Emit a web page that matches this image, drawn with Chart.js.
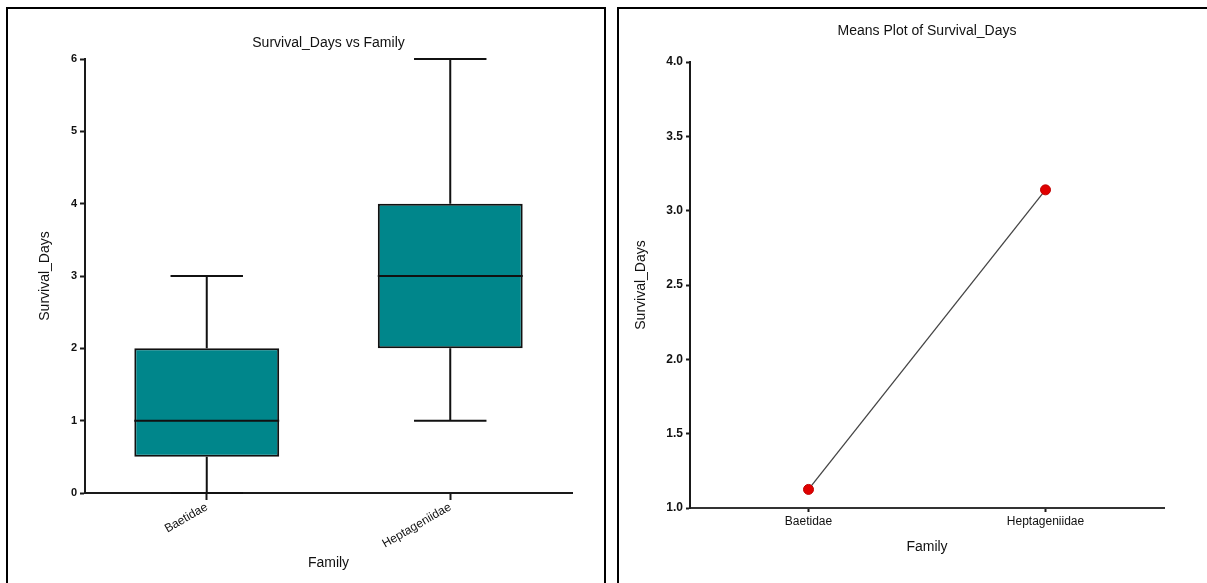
<!DOCTYPE html>
<html>
<head>
<meta charset="utf-8">
<script src="https://cdn.jsdelivr.net/npm/chart.js@4"></script>
<style>
  html, body { margin: 0; padding: 0; background: #fff; overflow: hidden; }
  body { width: 1207px; height: 583px; position: relative; }
  .panel { position: absolute; border: 2px solid #000; box-sizing: border-box; }
  #leftPanel { left: 6px; top: 7px; width: 600px; height: 600px; }
  #rightPanel { left: 617px; top: 7px; width: 620px; height: 600px; }
  canvas { position: absolute; top: 0; }
  #boxChart { left: 0; }
  #meansChart { left: 610px; }
</style>
</head>
<body>
<div class="panel" id="leftPanel"></div>
<div class="panel" id="rightPanel"></div>
<canvas id="boxChart" width="610" height="583"></canvas>
<canvas id="meansChart" width="597" height="583"></canvas>
<script>
// data
const families = ['Baetidae', 'Heptageniidae'];
const boxMin = [0, 1];
const boxQ1 = [0.5, 2];
const boxMedian = [1, 3];
const boxQ3 = [2, 4];
const boxMax = [3, 6];
const familyMeans = [1.125, 3.14];

const FONT = '"Liberation Sans", Arial, sans-serif';
const INK = '#1a1a1a';
Chart.defaults.font.family = FONT;
Chart.defaults.color = '#111';

// whiskers, caps and median lines on top of the floating bars
const whiskerPlugin = {
    id: 'whiskers',
    afterDatasetsDraw(chart) {
        const ctx = chart.ctx;
        const x = chart.scales.x;
        const y = chart.scales.y;
        const bars = chart.getDatasetMeta(0).data;
        ctx.save();
        ctx.strokeStyle = '#111';
        ctx.lineWidth = 2;
        families.forEach((f, i) => {
            const cx = x.getPixelForValue(i);
            const half = bars[i].width / 2;
            const cap = half / 2;
            const yMin = y.getPixelForValue(boxMin[i]);
            const yQ1 = y.getPixelForValue(boxQ1[i]);
            const yMed = y.getPixelForValue(boxMedian[i]);
            const yQ3 = y.getPixelForValue(boxQ3[i]);
            const yMax = y.getPixelForValue(boxMax[i]);
            ctx.beginPath();
            ctx.moveTo(cx, yQ3); ctx.lineTo(cx, yMax);
            ctx.moveTo(cx - cap, yMax); ctx.lineTo(cx + cap, yMax);
            ctx.moveTo(cx, yQ1); ctx.lineTo(cx, yMin);
            ctx.moveTo(cx - cap, yMin); ctx.lineTo(cx + cap, yMin);
            ctx.moveTo(cx - half, yMed); ctx.lineTo(cx + half, yMed);
            ctx.stroke();
        });
        ctx.restore();
    }
};

new Chart(document.getElementById('boxChart'), {
    type: 'bar',
    data: {
        labels: families,
        datasets: [{
            data: families.map((f, i) => [boxQ1[i], boxQ3[i]]),
            backgroundColor: '#00868B',
            borderColor: '#111',
            borderWidth: 2,
            borderSkipped: false,
            categoryPercentage: 1,
            barPercentage: 0.595
        }]
    },
    options: {
        responsive: false,
        animation: false,
        devicePixelRatio: 1,
        layout: { padding: { left: 30, right: 38, top: 35, bottom: 0 } },
        plugins: {
            legend: { display: false },
            tooltip: { enabled: false },
            title: {
                display: true, text: 'Survival_Days vs Family', fullSize: false,
                font: { size: 14, weight: 'normal' }, padding: { top: 0, bottom: 7.2 }
            }
        },
        scales: {
            x: {
                offset: true,
                grid: { offset: false, drawOnChartArea: false, tickLength: 7, color: INK, tickWidth: 2 },
                border: { color: INK, width: 2 },
                ticks: { minRotation: 30, maxRotation: 30, padding: 0, font: { size: 12 } },
                title: { display: true, text: 'Family', font: { size: 14 }, padding: { top: 0, bottom: 11.6 } },
                afterFit: (s) => { s.height = 90; }
            },
            y: {
                min: 0, max: 6,
                grid: { drawOnChartArea: false, tickLength: 5, color: INK, tickWidth: 2 },
                border: { color: INK, width: 2 },
                ticks: { stepSize: 1, padding: 3, font: { size: 11, weight: 'bold' } },
                title: { display: true, text: 'Survival_Days', font: { size: 14 }, padding: { top: 6.6, bottom: 0 } },
                afterFit: (s) => { s.width = 55; }
            }
        }
    },
    plugins: [whiskerPlugin]
});

new Chart(document.getElementById('meansChart'), {
    type: 'line',
    data: {
        labels: families,
        datasets: [{
            data: familyMeans,
            borderColor: '#444',
            borderWidth: 1.3,
            pointRadius: 5,
            pointBackgroundColor: '#e00000',
            pointBorderColor: '#c00000',
            pointBorderWidth: 1,
            tension: 0
        }]
    },
    options: {
        responsive: false,
        animation: false,
        devicePixelRatio: 1,
        layout: { padding: { left: 20, right: 43, top: 22.6, bottom: 0 } },
        plugins: {
            legend: { display: false },
            tooltip: { enabled: false },
            title: {
                display: true, text: 'Means Plot of Survival_Days', fullSize: false,
                font: { size: 14, weight: 'normal' }, padding: { top: 0, bottom: 22.6 }
            }
        },
        scales: {
            x: {
                offset: true,
                grid: { offset: false, drawOnChartArea: false, tickLength: 4, color: INK, tickWidth: 2 },
                border: { color: '#333', width: 2 },
                ticks: { maxRotation: 0, padding: 2.8, font: { size: 12 } },
                title: { display: true, text: 'Family', font: { size: 14 }, padding: { top: 0, bottom: 27.6 } },
                afterFit: (s) => { s.height = 75; }
            },
            y: {
                min: 1, max: 4,
                grid: { drawOnChartArea: false, tickLength: 4, color: INK, tickWidth: 2 },
                border: { color: INK, width: 2 },
                ticks: { stepSize: 0.5, padding: 3, font: { size: 12, weight: 'bold' }, callback: (v) => v.toFixed(1) },
                title: { display: true, text: 'Survival_Days', font: { size: 14 }, padding: { top: 2.6, bottom: 0 } },
                afterFit: (s) => { s.width = 60; }
            }
        }
    }
});
</script>
</body>
</html>
